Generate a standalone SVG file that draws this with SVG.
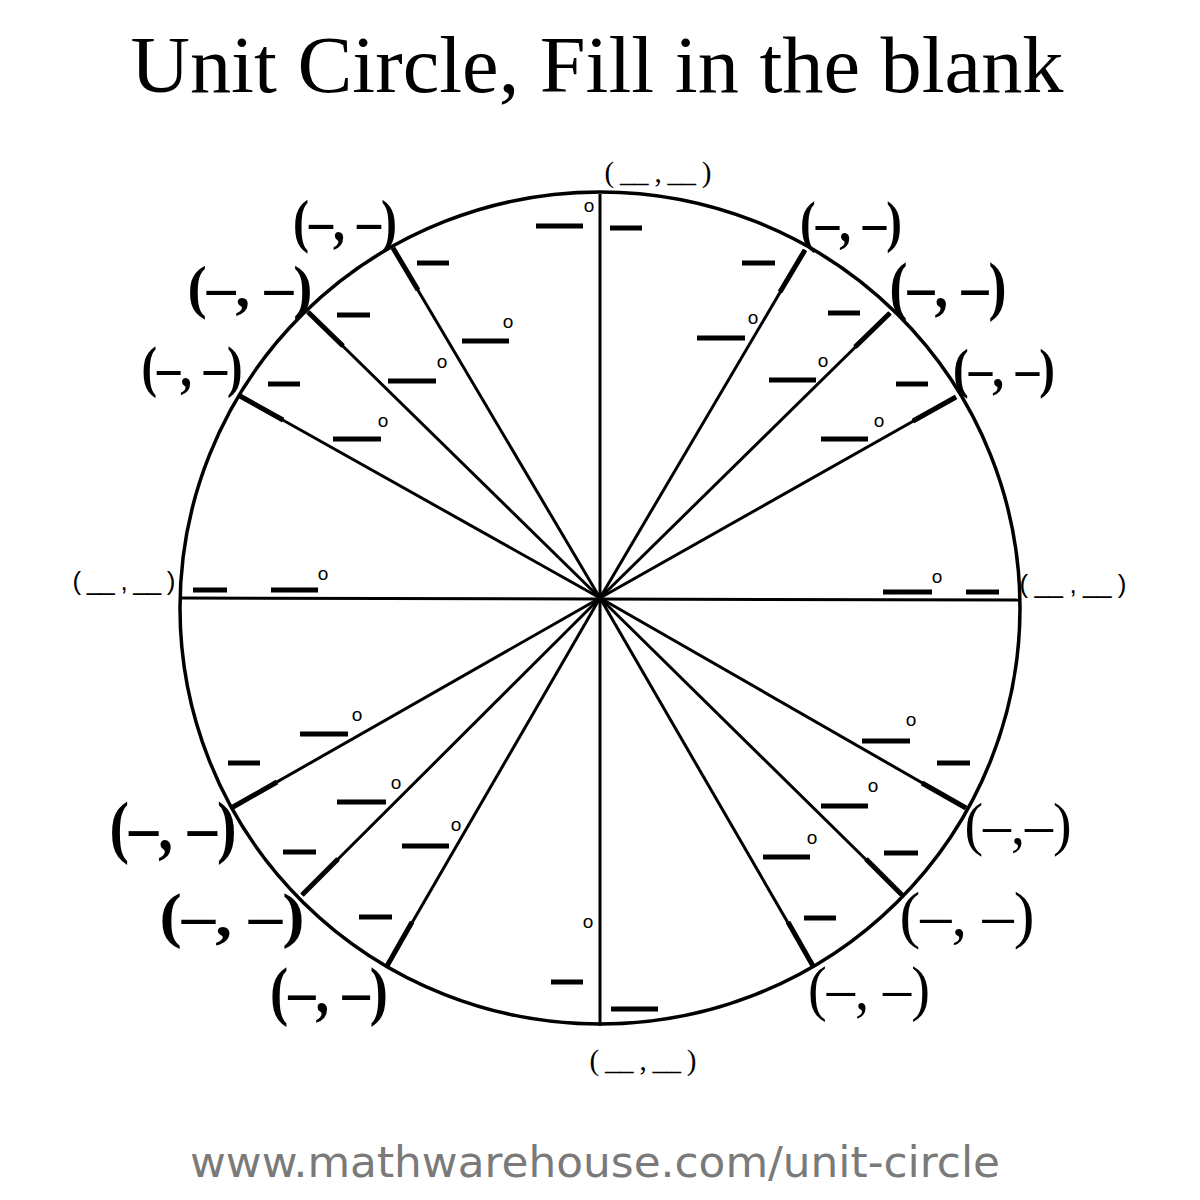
<svg xmlns="http://www.w3.org/2000/svg" width="1200" height="1200" viewBox="0 0 1200 1200">
<style>
.spoke{stroke:#000;stroke-width:3;fill:none}
.thick{stroke:#000;stroke-width:5;fill:none}
.bar{stroke:#000;stroke-width:5;fill:none}
.deg{font-family:"Liberation Sans",Arial,sans-serif;font-size:19px;fill:#000;text-anchor:middle}
.big{font-family:"Liberation Serif","Times New Roman",serif;font-weight:bold;fill:#000;text-anchor:middle}
.bigr{font-family:"Liberation Serif","Times New Roman",serif;fill:#000;text-anchor:middle}
.small{font-family:"Liberation Serif","Times New Roman",serif;font-size:29px;fill:#000;text-anchor:middle}
.smalls{font-family:"Liberation Sans",Arial,sans-serif;font-size:26px;fill:#000;text-anchor:middle}
</style>
<rect width="1200" height="1200" fill="#fff"/>
<text id="title" x="597" y="92" font-family="Liberation Serif,'Times New Roman',serif" font-size="80" text-anchor="middle" textLength="933" lengthAdjust="spacingAndGlyphs">Unit Circle, Fill in the blank</text>

<g id="circle">
<ellipse cx="600" cy="608" rx="420" ry="416" fill="none" stroke="#000" stroke-width="3.5"/>
</g>

<g id="spokes">
<line class="spoke" x1="600" y1="598" x2="600" y2="194" stroke-width="3.5"/>
<line class="spoke" x1="600" y1="598" x2="600" y2="1026" stroke-width="3.5"/>
<line class="spoke" x1="180" y1="598" x2="1020" y2="600" stroke-width="3.5"/>
<line class="spoke" x1="600" y1="598" x2="805" y2="250"/>
<line class="spoke" x1="600" y1="598" x2="890" y2="313"/>
<line class="spoke" x1="600" y1="598" x2="956" y2="397"/>
<line class="spoke" x1="600" y1="598" x2="966" y2="808"/>
<line class="spoke" x1="600" y1="598" x2="902" y2="895"/>
<line class="spoke" x1="600" y1="598" x2="813" y2="966"/>
<line class="spoke" x1="600" y1="598" x2="387" y2="966"/>
<line class="spoke" x1="600" y1="598" x2="302" y2="895"/>
<line class="spoke" x1="600" y1="598" x2="233" y2="807"/>
<line class="spoke" x1="600" y1="598" x2="240" y2="396"/>
<line class="spoke" x1="600" y1="598" x2="308" y2="312"/>
<line class="spoke" x1="600" y1="598" x2="393" y2="248"/>
<line class="thick" x1="780" y1="292" x2="805" y2="250"/>
<line class="thick" x1="855" y1="347" x2="890" y2="313"/>
<line class="thick" x1="913" y1="421" x2="956" y2="397"/>
<line class="thick" x1="922" y1="783" x2="966" y2="808"/>
<line class="thick" x1="866" y1="859" x2="902" y2="895"/>
<line class="thick" x1="788" y1="922" x2="813" y2="966"/>
<line class="thick" x1="412" y1="922" x2="387" y2="966"/>
<line class="thick" x1="338" y1="859" x2="302" y2="895"/>
<line class="thick" x1="277" y1="782" x2="233" y2="807"/>
<line class="thick" x1="283" y1="420" x2="240" y2="396"/>
<line class="thick" x1="343" y1="346" x2="308" y2="312"/>
<line class="thick" x1="418" y1="290" x2="393" y2="248"/>
</g>

<g id="blanks">
<line class="bar" x1="536" y1="226" x2="583" y2="226"/><text class="deg" x="589" y="212">o</text>
<line class="bar" x1="610" y1="228" x2="642" y2="228"/>
<line class="bar" x1="417" y1="263" x2="449" y2="263"/>
<line class="bar" x1="462" y1="341" x2="509" y2="341"/><text class="deg" x="508" y="328">o</text>
<line class="bar" x1="337" y1="315" x2="370" y2="315"/>
<line class="bar" x1="388" y1="381" x2="436" y2="381"/><text class="deg" x="442" y="368">o</text>
<line class="bar" x1="268" y1="384" x2="300" y2="384"/>
<line class="bar" x1="333" y1="439" x2="381" y2="439"/><text class="deg" x="383" y="427">o</text>

<line class="bar" x1="742" y1="263" x2="775" y2="263"/>
<line class="bar" x1="697" y1="338" x2="745" y2="338"/><text class="deg" x="753" y="324">o</text>
<line class="bar" x1="828" y1="313" x2="860" y2="313"/>
<line class="bar" x1="769" y1="380" x2="816" y2="380"/><text class="deg" x="823" y="367">o</text>
<line class="bar" x1="896" y1="384" x2="928" y2="384"/>
<line class="bar" x1="821" y1="439" x2="868" y2="439"/><text class="deg" x="879" y="427">o</text>

<line class="bar" x1="193" y1="590" x2="227" y2="590"/>
<line class="bar" x1="271" y1="590" x2="318" y2="590"/><text class="deg" x="323" y="580">o</text>
<line class="bar" x1="883" y1="592" x2="932" y2="592"/><text class="deg" x="937" y="583">o</text>
<line class="bar" x1="966" y1="592" x2="999" y2="592"/>

<line class="bar" x1="300" y1="734" x2="348" y2="734"/><text class="deg" x="357" y="721">o</text>
<line class="bar" x1="228" y1="763" x2="260" y2="763"/>
<line class="bar" x1="337" y1="802" x2="386" y2="802"/><text class="deg" x="396" y="789">o</text>
<line class="bar" x1="283" y1="852" x2="316" y2="852"/>
<line class="bar" x1="402" y1="846" x2="449" y2="846"/><text class="deg" x="456" y="831">o</text>
<line class="bar" x1="359" y1="917" x2="392" y2="917"/>

<line class="bar" x1="862" y1="741" x2="910" y2="741"/><text class="deg" x="911" y="726">o</text>
<line class="bar" x1="937" y1="763" x2="970" y2="763"/>
<line class="bar" x1="821" y1="806" x2="868" y2="806"/><text class="deg" x="873" y="792">o</text>
<line class="bar" x1="884" y1="853" x2="918" y2="853"/>
<line class="bar" x1="763" y1="857" x2="810" y2="857"/><text class="deg" x="812" y="844">o</text>
<line class="bar" x1="804" y1="918" x2="836" y2="918"/>

<text class="deg" x="588" y="928">o</text>
<line class="bar" x1="551" y1="982" x2="583" y2="982"/>
<line class="bar" x1="611" y1="1009" x2="658" y2="1009"/>
</g>

<g id="labels">
<text id="p90" class="small" x="658" y="182" textLength="107" lengthAdjust="spacing">( __ , __ )</text>
<text id="p270" class="small" x="643" y="1070" textLength="107" lengthAdjust="spacing">( __ , __ )</text>
<text id="p180" class="smalls" x="124" y="590" textLength="103" lengthAdjust="spacing">( __ , __ )</text>
<text id="p0" class="smalls" x="1073" y="593" textLength="107" lengthAdjust="spacing">( __ , __ )</text>

<text id="p120" class="big" x="345" y="241" font-size="60" textLength="104" lengthAdjust="spacingAndGlyphs">(–, –)</text>
<text id="p135" class="big" x="250" y="307" font-size="60" textLength="125" lengthAdjust="spacingAndGlyphs">(–, –)</text>
<text id="p150" class="big" x="192" y="386" font-size="57" textLength="101" lengthAdjust="spacingAndGlyphs">(–, –)</text>
<text id="p60" class="big" x="851" y="241" font-size="58" textLength="102" lengthAdjust="spacingAndGlyphs">(–, –)</text>
<text id="p45" class="big" x="948" y="308" font-size="65" textLength="117" lengthAdjust="spacingAndGlyphs">(–, –)</text>
<text id="p30" class="big" x="1004" y="387" font-size="54" textLength="102" lengthAdjust="spacingAndGlyphs">(–, –)</text>
<text id="p210" class="big" x="173" y="850" font-size="69" textLength="127" lengthAdjust="spacingAndGlyphs">(–, –)</text>
<text id="p225" class="big" x="232" y="936" font-size="62" textLength="145" lengthAdjust="spacingAndGlyphs">(–, –)</text>
<text id="p240" class="big" x="329" y="1013" font-size="66" textLength="118" lengthAdjust="spacingAndGlyphs">(–, –)</text>
<text id="p330" class="bigr" x="1018" y="844" font-size="60" textLength="107" lengthAdjust="spacingAndGlyphs">(–,–)</text>
<text id="p315" class="bigr" x="967" y="936" font-size="63" textLength="135" lengthAdjust="spacingAndGlyphs">(–, –)</text>
<text id="p300" class="bigr" x="869" y="1009" font-size="61" textLength="122" lengthAdjust="spacingAndGlyphs">(–, –)</text>
</g>

<text id="url" x="595" y="1177" font-family="'DejaVu Sans','Liberation Sans',sans-serif" font-size="42" fill="#7a7a7a" text-anchor="middle" textLength="810" lengthAdjust="spacingAndGlyphs">www.mathwarehouse.com/unit-circle</text>
</svg>
